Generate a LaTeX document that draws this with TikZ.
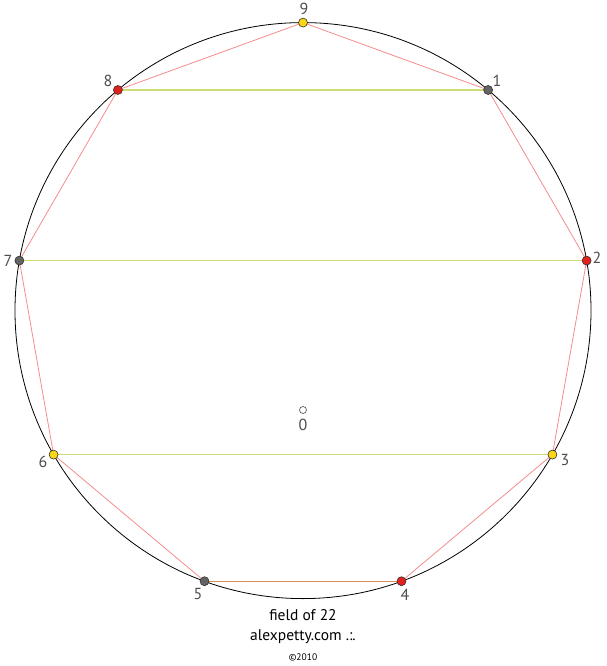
\documentclass[tikz,border=0pt]{standalone}
\usepackage{fontspec}
\setmainfont{PT Sans}
\usetikzlibrary{calc}
\definecolor{chordcol}{RGB}{206,220,118}
\definecolor{edgecol}{RGB}{245,140,140}
\definecolor{redfill}{RGB}{228,32,28}
\definecolor{yelfill}{RGB}{250,214,20}
\definecolor{greyfill}{RGB}{100,100,100}
\definecolor{basecol}{RGB}{215,140,90}
\begin{document}
\begin{tikzpicture}[x=1pt,y=-1pt,
  dotbox/.style={circle,draw=black!80,line width=0.6pt,inner sep=0pt,minimum size=9pt},
  greydot/.style={dotbox,fill=greyfill},
  reddot/.style={dotbox,fill=redfill},
  yellowdot/.style={dotbox,fill=yelfill},
  numlabel/.style={text=black!70,font=\fontsize{16}{16}\selectfont,inner sep=0pt},
  edge/.style={draw=edgecol,line width=0.8pt},
  chord/.style={draw=chordcol,line width=1.2pt},
  basechord/.style={draw=basecol,line width=0.45pt}]
\useasboundingbox (0,0) rectangle (606,666);
\coordinate (c) at (303,310.6);
\draw[line width=0.8pt] (c) circle[radius=288];
% vertices
\foreach \n/\a in {9/90,1/50,2/10,3/-30,4/-70,5/-110,6/-150,7/170,8/130}
  \coordinate (p\n) at ($(c)+({288*cos(\a)},{-288*sin(\a)})$);
% chords
\draw[chord] (p8) -- (p1);
\draw[chord] (p7) -- (p2);
\draw[chord] (p6) -- (p3);
\draw[basechord] (p5) -- (p4);
% polygon edges
\draw[edge] (p9) -- (p1) -- (p2) -- (p3) -- (p4);
\draw[edge] (p9) -- (p8) -- (p7) -- (p6) -- (p5);
% dots
\node[yellowdot] (d9) at (p9) {};
\node[greydot] (d1) at (p1) {};
\node[reddot] (d2) at (p2) {};
\node[yellowdot] (d3) at (p3) {};
\node[reddot] (d4) at (p4) {};
\node[greydot] (d5) at (p5) {};
\node[yellowdot] (d6) at (p6) {};
\node[greydot] (d7) at (p7) {};
\node[reddot] (d8) at (p8) {};
% labels
\node[numlabel] (l9) at (304,9) {9};
\node[numlabel] (l1) at (497,81) {1};
\node[numlabel] (l2) at (597,258) {2};
\node[numlabel] (l3) at (565,460) {3};
\node[numlabel] (l4) at (405,595) {4};
\node[numlabel] (l5) at (198,594) {5};
\node[numlabel] (l6) at (43,462) {6};
\node[numlabel] (l7) at (8,261) {7};
\node[numlabel] (l8) at (108,81) {8};
% zero marker
\node[circle,draw=black!70,line width=0.6pt,fill=white,inner sep=0pt,minimum size=7pt] (z) at (303,410) {};
\node[numlabel] (l0) at (303,425) {0};
% caption
\node[font=\fontsize{15.5}{15.5}\selectfont,inner sep=0pt] (t1) at (303,615) {field of 22};
\node[font=\fontsize{15.5}{15.5}\selectfont,inner sep=0pt] (t2) at (303,637) {alexpetty.com .:.};
\node[font=\fontsize{9.5}{9.5}\selectfont,inner sep=0pt] (t3) at (303,657) {©2010};
\end{tikzpicture}
\end{document}
